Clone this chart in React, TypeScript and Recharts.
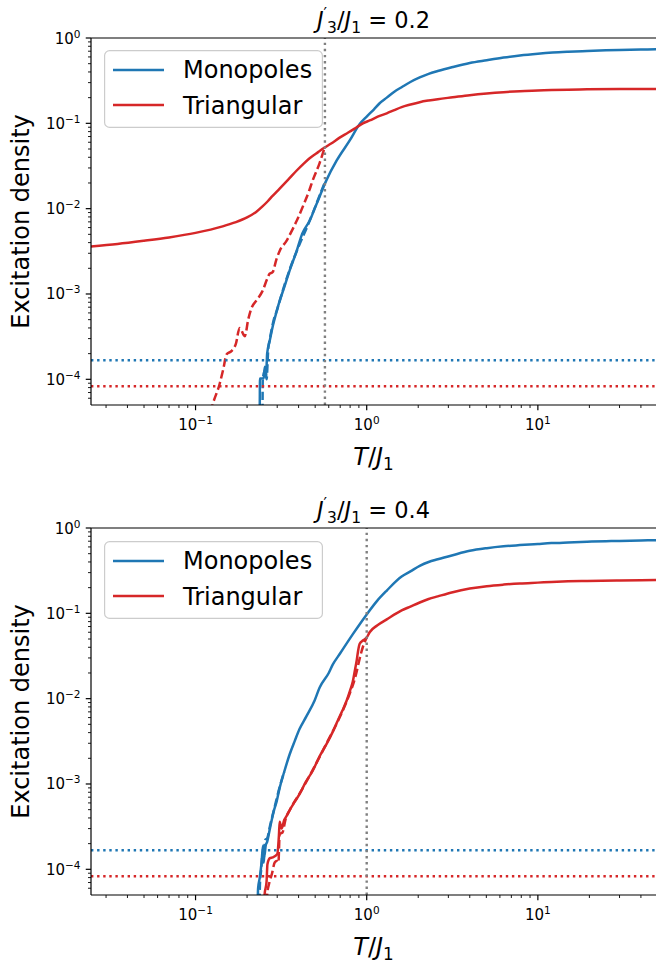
import React from 'react';
import { LineChart, Line, XAxis, YAxis, ReferenceLine, Legend } from 'recharts';

const FONT = "'DejaVu Sans', sans-serif";
const BLUE = '#1f77b4';
const RED = '#d62728';
const GRAY = '#808080';
const LW = 2.5;

// ---------- axes ----------
const X_DOMAIN = [0.0245, 49];
const Y_DOMAIN = [5e-5, 1];
const xMajorTicks = [0.1, 1, 10];
const xMinorTicks = [0.03, 0.04, 0.05, 0.06, 0.07, 0.08, 0.09, 0.2, 0.3, 0.4, 0.5, 0.6, 0.7, 0.8, 0.9, 2, 3, 4, 5, 6, 7, 8, 9, 20, 30, 40];
const yMajorTicks = [1e-4, 1e-3, 1e-2, 1e-1, 1];
const yMinorTicks = [
  6e-5, 7e-5, 8e-5, 9e-5,
  2e-4, 3e-4, 4e-4, 5e-4, 6e-4, 7e-4, 8e-4, 9e-4,
  2e-3, 3e-3, 4e-3, 5e-3, 6e-3, 7e-3, 8e-3, 9e-3,
  2e-2, 3e-2, 4e-2, 5e-2, 6e-2, 7e-2, 8e-2, 9e-2,
  0.2, 0.3, 0.4, 0.5, 0.6, 0.7, 0.8, 0.9,
];

// ---------- panel 1: J3'/J1 = 0.2 ----------
const p1Title = '0.2';
const p1VLine = 0.57;
const p1MonoT = [0.237, 0.238, 0.25, 0.254, 0.258, 0.262, 0.271, 0.285, 0.298, 0.31, 0.33, 0.354, 0.39, 0.42, 0.464, 0.51, 0.58, 0.668, 0.796, 0.91, 1.0, 1.1, 1.19, 1.31, 1.45, 1.6, 1.8, 2.04, 2.3, 2.6, 3.18, 4, 5.03, 6.3, 7.85, 10, 12.2, 15, 19.4, 25, 30, 40, 49];
const p1MonoN = [3e-5, 1.02e-4, 1.02e-4, 1.4e-4, 1.05e-4, 2e-4, 2.8e-4, 4.5e-4, 6.3e-4, 8.3e-4, 1.2e-3, 1.87e-3, 3.2e-3, 5.1e-3, 7.2e-3, 0.0114, 0.0213, 0.0367, 0.063, 0.098, 0.12, 0.145, 0.172, 0.2, 0.235, 0.265, 0.305, 0.345, 0.38, 0.41, 0.457, 0.51, 0.55, 0.59, 0.625, 0.655, 0.675, 0.69, 0.705, 0.718, 0.724, 0.732, 0.736];
const p1MonoDashT = [0.246, 0.247, 0.256, 0.26, 0.266, 0.272, 0.285, 0.3, 0.33, 0.36, 0.4, 0.45, 0.5, 0.57];
const p1MonoDashN = [3e-5, 1.0e-4, 1.3e-4, 1.0e-4, 2.3e-4, 3e-4, 4.8e-4, 6.6e-4, 1.25e-3, 2.1e-3, 3.6e-3, 6.2e-3, 0.0105, 0.0205];
const p1TriT = [0.0245, 0.035, 0.05, 0.07, 0.1, 0.144, 0.17, 0.2, 0.225, 0.247, 0.265, 0.28, 0.31, 0.35, 0.39, 0.43, 0.464, 0.52, 0.568, 0.62, 0.695, 0.78, 0.874, 0.95, 1.04, 1.19, 1.31, 1.45, 1.6, 1.8, 2.04, 2.3, 2.6, 3.18, 4, 5.03, 6.3, 7.85, 10, 12, 15, 19.4, 30, 49];
const p1TriN = [3.6e-3, 3.85e-3, 4.2e-3, 4.6e-3, 5.2e-3, 6.2e-3, 6.9e-3, 7.9e-3, 9.1e-3, 0.0107, 0.0123, 0.0139, 0.0172, 0.0222, 0.028, 0.034, 0.039, 0.046, 0.052, 0.058, 0.068, 0.078, 0.09, 0.1, 0.108, 0.122, 0.131, 0.143, 0.155, 0.166, 0.177, 0.185, 0.192, 0.202, 0.214, 0.224, 0.232, 0.238, 0.242, 0.245, 0.248, 0.25, 0.252, 0.253];
const p1TriDashT = [0.118, 0.126, 0.138, 0.145, 0.152, 0.162, 0.172, 0.181, 0.194, 0.203, 0.212, 0.228, 0.246, 0.262, 0.271, 0.282, 0.296, 0.31, 0.34, 0.37, 0.39, 0.43, 0.46, 0.483, 0.53, 0.568];
const p1TriDashN = [3e-5, 5.1e-5, 8.7e-5, 1.3e-4, 1.97e-4, 2.14e-4, 2.6e-4, 4e-4, 3.2e-4, 5e-4, 6.8e-4, 8.5e-4, 1.08e-3, 1.5e-3, 1.73e-3, 1.8e-3, 2.5e-3, 3.2e-3, 4.2e-3, 5.8e-3, 7.2e-3, 0.0114, 0.016, 0.0213, 0.034, 0.052];

// ---------- panel 2: J3'/J1 = 0.4 ----------
const p2Title = '0.4';
const p2VLine = 1.0;
const p2MonoT = [0.23, 0.232, 0.237, 0.243, 0.248, 0.252, 0.257, 0.262, 0.27, 0.278, 0.288, 0.298, 0.31, 0.33, 0.354, 0.38, 0.405, 0.444, 0.497, 0.531, 0.6, 0.633, 0.7, 0.83, 1.0, 1.15, 1.31, 1.6, 1.8, 2.04, 2.3, 2.6, 3.18, 4, 5.03, 6.3, 7.85, 10, 12, 15, 19.4, 25, 30, 40, 49];
const p2MonoN = [3e-5, 6e-5, 7.9e-5, 1.2e-4, 1.9e-4, 1.4e-4, 1.9e-4, 2.1e-4, 2.8e-4, 3.7e-4, 5e-4, 6.3e-4, 9e-4, 1.4e-3, 2.2e-3, 3.2e-3, 4.4e-3, 6.2e-3, 9.6e-3, 0.0135, 0.02, 0.025, 0.034, 0.057, 0.097, 0.14, 0.185, 0.27, 0.31, 0.36, 0.4, 0.43, 0.48, 0.54, 0.58, 0.61, 0.63, 0.65, 0.665, 0.677, 0.69, 0.7, 0.705, 0.714, 0.72];
const p2MonoDashT = [0.236, 0.238, 0.242, 0.247, 0.25, 0.255, 0.262, 0.272, 0.29, 0.31, 0.33];
const p2MonoDashN = [3e-5, 7e-5, 1.0e-4, 1.6e-4, 1.2e-4, 2.2e-4, 2.3e-4, 3.2e-4, 5.4e-4, 9.2e-4, 1.4e-3];
const p2TriT = [0.252, 0.253, 0.26, 0.263, 0.272, 0.282, 0.3, 0.307, 0.31, 0.318, 0.33, 0.34, 0.36, 0.38, 0.405, 0.44, 0.483, 0.53, 0.583, 0.63, 0.677, 0.72, 0.764, 0.8, 0.83, 0.855, 0.874, 0.89, 0.91, 0.95, 1.0, 1.04, 1.15, 1.31, 1.6, 1.8, 2.04, 2.3, 2.6, 3.18, 4, 5.03, 6.3, 7.85, 10, 12, 15, 19.4, 30, 49];
const p2TriN = [3e-5, 5e-5, 7.2e-5, 1.15e-4, 1.35e-4, 1.38e-4, 1.5e-4, 2.5e-4, 3.6e-4, 3e-4, 3.8e-4, 4.2e-4, 5.2e-4, 6.2e-4, 7.6e-4, 1.05e-3, 1.42e-3, 2.1e-3, 2.95e-3, 4e-3, 5.5e-3, 7.2e-3, 9.5e-3, 0.0125, 0.016, 0.022, 0.028, 0.036, 0.044, 0.048, 0.052, 0.06, 0.072, 0.085, 0.108, 0.12, 0.134, 0.147, 0.158, 0.177, 0.195, 0.208, 0.217, 0.224, 0.229, 0.233, 0.237, 0.24, 0.243, 0.245];
const p2TriDashT = [0.258, 0.262, 0.27, 0.28, 0.29, 0.298, 0.305, 0.31, 0.322, 0.335, 0.36, 0.405, 0.483, 0.583, 0.677, 0.764, 0.8, 0.84, 0.87, 0.9, 0.93, 0.96, 1.0];
const p2TriDashN = [3e-5, 5e-5, 7e-5, 9e-5, 1.2e-4, 1.25e-4, 1.2e-4, 2.6e-4, 2.7e-4, 3.8e-4, 5.2e-4, 7.7e-4, 1.45e-3, 3e-3, 5.4e-3, 9.3e-3, 0.0118, 0.0155, 0.02, 0.027, 0.035, 0.043, 0.052];

// horizontal reference levels (shared)
const hMono = 1.67e-4;
const hTri = 8.3e-5;

const pts = (t: number[], n: number[]) => t.map((x, i) => ({ x, y: n[i] }));

const isMajor = (v: number) => Math.abs(Math.log10(v) - Math.round(Math.log10(v))) < 1e-6;
const expLabel = (v: number) => {
  const e = Math.round(Math.log10(v));
  return e < 0 ? '\u2212' + Math.abs(e) : String(e);
};

const XTick = (props: any) => {
  const { x, y, payload } = props;
  const v = payload.value;
  const major = isMajor(v);
  return (
    <g>
      <line x1={x} x2={x} y1={y} y2={y + (major ? 5.25 : 3)} stroke="#000" strokeWidth={major ? 1.2 : 0.9} />
      {major && (
        <text x={x} y={y + 25} textAnchor="middle" fontFamily={FONT} fontSize={15} fill="#000">
          10<tspan dy={-6} fontSize={10.5}>{expLabel(v)}</tspan>
        </text>
      )}
    </g>
  );
};

const YTick = (props: any) => {
  const { x, y, payload } = props;
  const v = payload.value;
  const major = isMajor(v);
  return (
    <g>
      <line x1={x - (major ? 5.25 : 3)} x2={x} y1={y} y2={y} stroke="#000" strokeWidth={major ? 1.2 : 0.9} />
      {major && (
        <text x={x - 10.5} y={y + 5.5} textAnchor="end" fontFamily={FONT} fontSize={15} fill="#000">
          10<tspan dy={-6} fontSize={10.5}>{expLabel(v)}</tspan>
        </text>
      )}
    </g>
  );
};

const XLabel = (props: any) => {
  const vb = props.viewBox || { x: 91, y: 405, width: 565, height: 75 };
  const cx = vb.x + vb.width / 2;
  return (
    <text x={cx} y={vb.y + 60} textAnchor="middle" fontFamily={FONT} fontSize={24} fill="#000">
      <tspan fontStyle="italic">T</tspan>
      <tspan>/</tspan>
      <tspan fontStyle="italic">J</tspan>
      <tspan fontSize={16.8} dy={5}>1</tspan>
    </text>
  );
};

const YLabel = (props: any) => {
  const vb = props.viewBox || { x: 0, y: 38, width: 91, height: 367 };
  const cy = vb.y + vb.height / 2;
  const bx = 29;
  return (
    <text x={bx} y={cy} transform={`rotate(-90, ${bx}, ${cy})`} textAnchor="middle" fontFamily={FONT} fontSize={24} fill="#000">
      Excitation density
    </text>
  );
};

const TitleLabel = (props: any) => {
  const vb = props.viewBox || { x: 91, y: 38, width: 565, height: 0 };
  const cx = vb.x + vb.width / 2;
  return (
    <text x={cx} y={vb.y - 10.5} textAnchor="middle" fontFamily={FONT} fontSize={22.5} fill="#000">
      <tspan fontStyle="italic">J</tspan>
      <tspan fontSize={15.5} dy={-9}>{'\u2032'}</tspan>
      <tspan fontSize={15.5} dy={14}>3</tspan>
      <tspan dy={-5}>/</tspan>
      <tspan fontStyle="italic">J</tspan>
      <tspan fontSize={15.5} dy={5}>1</tspan>
      <tspan dy={-5}>{' = ' + props.value}</tspan>
    </text>
  );
};

const LegendBox = () => (
  <svg width={219} height={78} style={{ display: 'block' }}>
    <rect x={0.6} y={0.6} width={217.8} height={76.8} rx={5} fill="#fff" fillOpacity={0.8} stroke="#cccccc" strokeWidth={1.2} />
    <line x1={9} x2={60} y1={20} y2={20} stroke={BLUE} strokeWidth={LW} />
    <text x={79} y={28} fontFamily={FONT} fontSize={24} fill="#000">Monopoles</text>
    <line x1={9} x2={60} y1={55} y2={55} stroke={RED} strokeWidth={LW} />
    <text x={79} y={63.5} fontFamily={FONT} fontSize={24} fill="#000">Triangular</text>
  </svg>
);

type PanelProps = {
  top: number;
  height: number;
  marginTop: number;
  xAxisHeight: number;
  legendTop: number;
  title: string;
  vline: number;
  mono: { x: number; y: number }[];
  monoDash: { x: number; y: number }[];
  tri: { x: number; y: number }[];
  triDash: { x: number; y: number }[];
};

const Panel = (p: PanelProps) => (
  <div style={{ position: 'absolute', left: 0, top: p.top }}>
    <LineChart width={656} height={p.height} margin={{ top: p.marginTop, right: 0, bottom: 0, left: 0 }}>
      <XAxis
        dataKey="x"
        type="number"
        scale="log"
        domain={X_DOMAIN}
        allowDataOverflow
        ticks={[...xMinorTicks, ...xMajorTicks]}
        interval={0}
        tickSize={0}
        tickMargin={0}
        tickLine={false}
        tick={<XTick />}
        axisLine={{ stroke: '#000', strokeWidth: 1.2 }}
        height={p.xAxisHeight}
        label={<XLabel />}
      />
      <YAxis
        dataKey="y"
        type="number"
        scale="log"
        domain={Y_DOMAIN}
        allowDataOverflow
        ticks={[...yMinorTicks, ...yMajorTicks]}
        interval={0}
        tickSize={0}
        tickMargin={0}
        tickLine={false}
        tick={<YTick />}
        axisLine={{ stroke: '#000', strokeWidth: 1.2 }}
        width={91}
        label={<YLabel />}
      />
      <Line type="monotone" data={p.mono} dataKey="y" stroke={BLUE} strokeWidth={LW} dot={false} isAnimationActive={false} />
      <Line type="monotone" data={p.monoDash} dataKey="y" stroke={BLUE} strokeWidth={LW} strokeDasharray="8.3 3.6" dot={false} isAnimationActive={false} />
      <Line type="monotone" data={p.tri} dataKey="y" stroke={RED} strokeWidth={LW} dot={false} isAnimationActive={false} />
      <Line type="monotone" data={p.triDash} dataKey="y" stroke={RED} strokeWidth={LW} strokeDasharray="8.3 3.6" dot={false} isAnimationActive={false} />
      <ReferenceLine y={hMono} stroke={BLUE} strokeWidth={2.4} strokeDasharray="2.4 3.7" />
      <ReferenceLine y={hTri} stroke={RED} strokeWidth={2.4} strokeDasharray="2.4 3.7" />
      <ReferenceLine x={p.vline} stroke={GRAY} strokeWidth={2.4} strokeDasharray="2.4 3.7" />
      <ReferenceLine y={1} stroke="#000" strokeWidth={1.2} label={<TitleLabel value={p.title} />} />
      <Legend
        layout="horizontal"
        verticalAlign="middle"
        align="center"
        wrapperStyle={{ position: 'absolute', left: 104, top: p.legendTop, width: 219, height: 78, margin: 0, padding: 0 }}
        content={() => <LegendBox />}
      />
    </LineChart>
  </div>
);

export default function App() {
  return (
    <div style={{ position: 'absolute', left: 0, top: 0, width: 656, height: 963, background: '#fff', fontFamily: FONT }}>
      <Panel
        top={0}
        height={480}
        marginTop={38}
        xAxisHeight={75}
        legendTop={50}
        title={p1Title}
        vline={p1VLine}
        mono={pts(p1MonoT, p1MonoN)}
        monoDash={pts(p1MonoDashT, p1MonoDashN)}
        tri={pts(p1TriT, p1TriN)}
        triDash={pts(p1TriDashT, p1TriDashN)}
      />
      <Panel
        top={480}
        height={483}
        marginTop={48}
        xAxisHeight={68}
        legendTop={61}
        title={p2Title}
        vline={p2VLine}
        mono={pts(p2MonoT, p2MonoN)}
        monoDash={pts(p2MonoDashT, p2MonoDashN)}
        tri={pts(p2TriT, p2TriN)}
        triDash={pts(p2TriDashT, p2TriDashN)}
      />
    </div>
  );
}
